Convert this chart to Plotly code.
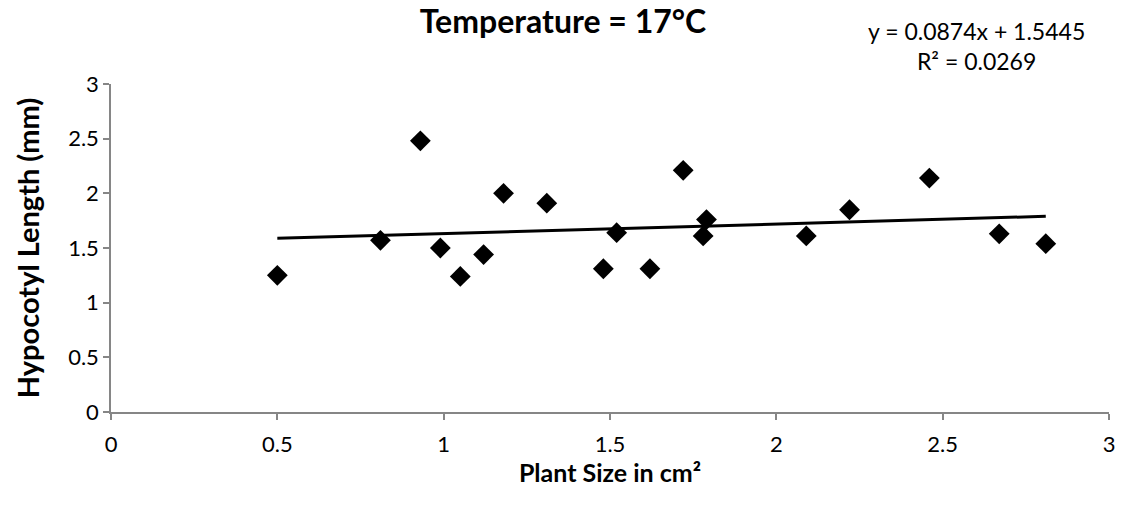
import plotly.graph_objects as go

# Data
plant_size = [0.50, 0.81, 0.93, 0.99, 1.05, 1.12, 1.18, 1.31, 1.48, 1.52,
              1.62, 1.72, 1.79, 1.78, 2.09, 2.22, 2.46, 2.67, 2.81]
hypocotyl = [1.25, 1.57, 2.48, 1.50, 1.24, 1.44, 2.00, 1.91, 1.31, 1.64,
             1.31, 2.21, 1.76, 1.61, 1.61, 1.85, 2.14, 1.63, 1.54]

slope = 0.0874
intercept = 1.5445
r_squared = 0.0269

title_text = "Temperature = 17°C"
x_title = "Plant Size in cm²"
y_title = "Hypocotyl Length (mm)"

x_min, x_max = min(plant_size), max(plant_size)
trend_x = [x_min, x_max]
trend_y = [slope * v + intercept for v in trend_x]

FONT = "Lato, 'Open Sans', sans-serif"

fig = go.Figure()
fig.add_trace(go.Scatter(
    x=trend_x, y=trend_y, mode="lines",
    line=dict(color="black", width=3), hoverinfo="skip", showlegend=False))
fig.add_trace(go.Scatter(
    x=plant_size, y=hypocotyl, mode="markers",
    marker=dict(symbol="diamond", size=16, color="black"), showlegend=False))

axis_common = dict(
    showgrid=False, zeroline=False, showline=True, linecolor="#868686", linewidth=1.5,
    ticks="outside", ticklen=6, tickcolor="#868686", tickwidth=1.5,
    tickfont=dict(family=FONT, size=22, color="black"),
    range=[0, 3], dtick=0.5, tick0=0,
)

fig.update_layout(
    width=1130, height=505,
    margin=dict(l=111, r=21, t=84, b=93),
    paper_bgcolor="white", plot_bgcolor="white",
    font=dict(family=FONT, color="black"),
    xaxis=dict(**axis_common, ticklabelstandoff=6,
               title=dict(text="<b>" + x_title + "</b>", font=dict(family=FONT, size=25), standoff=3)),
    yaxis=dict(**axis_common,
               title=dict(text="<b>" + y_title + "</b>", font=dict(family=FONT, size=29), standoff=20)),
    title=dict(text="<b>" + title_text + "</b>", x=563 / 1130, xanchor="center",
               y=1 - 22 / 505, yanchor="middle", font=dict(family=FONT, size=32)),
)

fig.add_annotation(
    text=f"y = {slope}x + {intercept}<br>R² = {r_squared}",
    xref="paper", yref="paper", x=(976 - 111) / (1130 - 111 - 21), y=1 + (84 - 46) / (505 - 84 - 93),
    xanchor="center", yanchor="middle", showarrow=False, align="center",
    font=dict(family=FONT, size=23, color="black"))

fig.write_html("out.html")
